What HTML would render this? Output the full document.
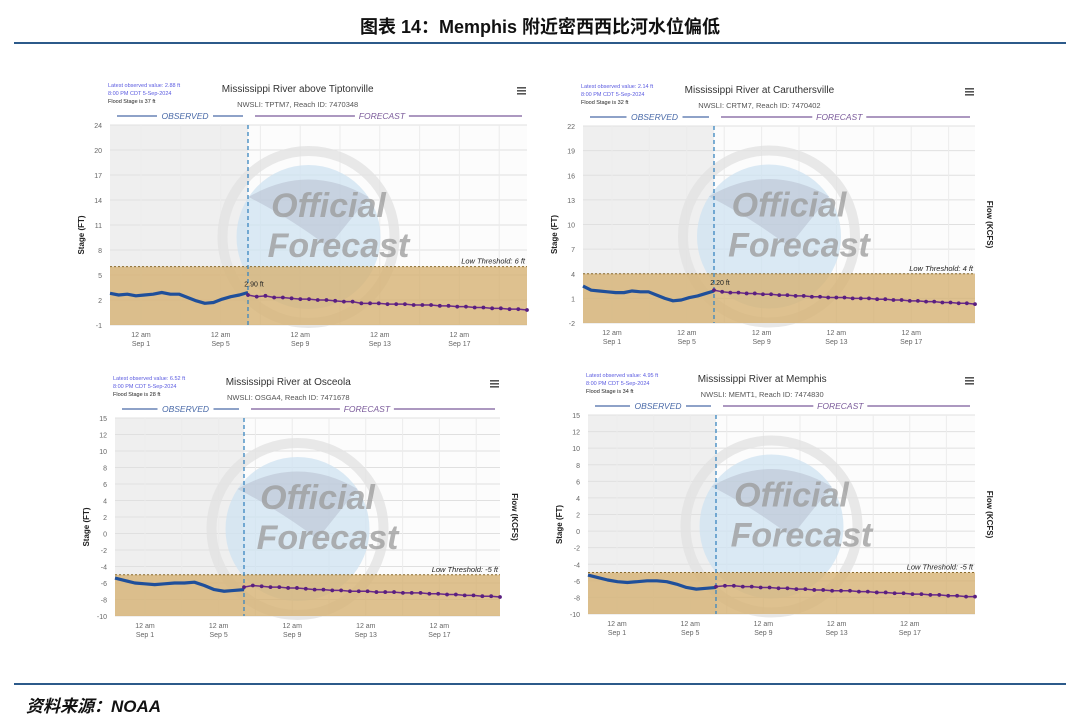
<!DOCTYPE html>
<html><head><meta charset="utf-8">
<style>
html,body{margin:0;padding:0;background:#fff;}
body{width:1080px;height:720px;overflow:hidden;position:relative;font-family:"Liberation Sans","Noto Sans CJK SC",sans-serif;}
#title{position:absolute;left:0;top:13px;width:1080px;text-align:center;font-size:18px;font-weight:bold;color:#111;}
.rule{position:absolute;left:14px;width:1052px;height:2px;background:#2c5a8a;}
#source{position:absolute;left:26px;top:692px;font-size:17px;font-weight:bold;font-style:italic;color:#111;}
svg{position:absolute;left:0;top:0;}
</style></head>
<body>
<div id="title">图表 14：Memphis 附近密西西比河水位偏低</div>
<div class="rule" style="top:42px"></div>
<div class="rule" style="top:683px"></div>
<div id="source">资料来源：NOAA</div>
<svg id="chart" width="1080" height="720"></svg>
<script>
// ---- data ----
const panelTitles = ["Mississippi River above Tiptonville","Mississippi River at Caruthersville","Mississippi River at Osceola","Mississippi River at Memphis"];
const panelIds = ["NWSLI: TPTM7, Reach ID: 7470348","NWSLI: CRTM7, Reach ID: 7470402","NWSLI: OSGA4, Reach ID: 7471678","NWSLI: MEMT1, Reach ID: 7474830"];
const latestValues = ["2.88 ft","2.14 ft","6.52 ft","4.95 ft"];
const floodStages = ["37 ft","32 ft","28 ft","34 ft"];
const thresholds = [6, 4, -5, -5];
const thresholdLabels = ["Low Threshold: 6 ft","Low Threshold: 4 ft","Low Threshold: -5 ft","Low Threshold: -5 ft"];
const lastObsLabels = ["2.90 ft","2.20 ft","",""];
const xTickLabels = ["Sep 1","Sep 5","Sep 9","Sep 13","Sep 17"];
const xTickDays = [0,4,8,12,16];
const yTicks1 = [-1,2,5,8,11,14,17,20,24];
const yTicks2 = [-2,1,4,7,10,13,16,19,22];
const yTicks3 = [-10,-8,-6,-4,-2,0,2,4,6,8,10,12,15];
const yTicks4 = [-10,-8,-6,-4,-2,0,2,4,6,8,10,12,15];
const obs1 = [2.8,2.6,2.7,2.5,2.6,2.7,2.9,2.7,2.7,2.3,1.9,1.6,1.7,2.1,2.4,2.6,2.9];
const fc1 = [2.6,2.4,2.5,2.3,2.3,2.2,2.1,2.1,2.0,2.0,1.9,1.8,1.8,1.6,1.6,1.6,1.5,1.5,1.5,1.4,1.4,1.4,1.3,1.3,1.2,1.2,1.1,1.1,1.0,1.0,0.9,0.9,0.8];
const obs2 = [2.5,2.0,1.9,1.8,1.7,1.7,1.9,1.8,1.8,1.4,1.0,0.7,0.8,1.1,1.3,1.6,1.9];
const fc2 = [2.0,1.8,1.7,1.7,1.6,1.6,1.5,1.5,1.4,1.4,1.3,1.3,1.2,1.2,1.1,1.1,1.1,1.0,1.0,1.0,0.9,0.9,0.8,0.8,0.7,0.7,0.6,0.6,0.5,0.5,0.4,0.4,0.3];
const obs3 = [-5.4,-5.7,-6.0,-6.1,-6.2,-6.1,-6.0,-6.0,-5.9,-6.3,-6.8,-7.0,-6.9,-6.8];
const fc3 = [-6.5,-6.3,-6.4,-6.5,-6.5,-6.6,-6.6,-6.7,-6.8,-6.8,-6.9,-6.9,-7.0,-7.0,-7.0,-7.1,-7.1,-7.1,-7.2,-7.2,-7.2,-7.3,-7.3,-7.4,-7.4,-7.5,-7.5,-7.6,-7.6,-7.7];
const obs4 = [-5.3,-5.6,-5.9,-6.1,-6.2,-6.1,-6.0,-6.0,-6.1,-6.4,-6.8,-7.0,-6.9,-6.8];
const fc4 = [-6.7,-6.6,-6.6,-6.7,-6.7,-6.8,-6.8,-6.9,-6.9,-7.0,-7.0,-7.1,-7.1,-7.2,-7.2,-7.2,-7.3,-7.3,-7.4,-7.4,-7.5,-7.5,-7.6,-7.6,-7.7,-7.7,-7.8,-7.8,-7.9,-7.9];

// layout
const layouts = [
 {x0:110,x1:527,y0:125,y1:325,sep1:141,ppd:19.9,split:248,ticks:yTicks1,obs:obs1,fc:fc1,flow:false},
 {x0:583,x1:975,y0:126,y1:323,sep1:612,ppd:18.7,split:714,ticks:yTicks2,obs:obs2,fc:fc2,flow:true},
 {x0:115,x1:500,y0:418,y1:616,sep1:145,ppd:18.4,split:244,ticks:yTicks3,obs:obs3,fc:fc3,flow:true},
 {x0:588,x1:975,y0:415,y1:614,sep1:617,ppd:18.3,split:716,ticks:yTicks4,obs:obs4,fc:fc4,flow:true}
];
const NS="http://www.w3.org/2000/svg";
const svg=document.getElementById('chart');
function mk(tag,attrs,parent,text){const e=document.createElementNS(NS,tag);for(const k in attrs)e.setAttribute(k,attrs[k]);if(text!==undefined)e.textContent=text;(parent||svg).appendChild(e);return e;}

layouts.forEach((L,i)=>{
  const g=mk('g',{});
  
  
  const t=L.ticks, n=t.length;
  function ypx(v){
    for(let k=0;k<n-1;k++){if(v<=t[k+1]||k===n-2){const f=(v-t[k])/(t[k+1]-t[k]);return L.y1-(k+f)*(L.y1-L.y0)/(n-1);}}
  }
  function xpx(d){return L.sep1+d*L.ppd;}
  const splitDay=(L.split-L.sep1)/L.ppd, startDay=(L.x0-L.sep1)/L.ppd, endDay=(L.x1-L.sep1)/L.ppd;
  mk('rect',{x:L.x0,y:L.y0,width:L.split-L.x0,height:L.y1-L.y0,fill:'#efefef'},g);
  mk('rect',{x:L.split,y:L.y0,width:L.x1-L.split,height:L.y1-L.y0,fill:'#fcfcfc'},g);
  t.forEach((v,k)=>{const y=ypx(v);
    const gl=mk('line',{x1:L.x0,x2:L.x1,y1:y,y2:y,stroke:'#e0e0e0','stroke-width':1},g);
    
    const lb=mk('text',{x:L.x0-8,y:y+3,'text-anchor':'end','font-size':7,fill:'#666'},g,String(v));
    
  });
  for(let d=-2;d<=22;d+=2){const x=xpx(d);if(x>L.x0&&x<L.x1)mk('line',{x1:x,x2:x,y1:L.y0,y2:L.y1,stroke:'#ececec','stroke-width':1},g);}
  // watermark
  const cx=(L.x0+L.x1)/2-10, cy=(L.y0+L.y1)/2+12;
  mk('circle',{cx:cx,cy:cy,r:86,fill:'none',stroke:'#e2e2e2','stroke-width':10,opacity:0.8},g);
  mk('circle',{cx:cx,cy:cy,r:72,fill:'#cfe3f2',opacity:0.75},g);
  mk('path',{d:`M${cx-60} ${cy-40} Q${cx} ${cy-75} ${cx+60} ${cy-40} L${cx+20} ${cy+10} Q${cx-20} ${cy-20} ${cx-60} ${cy-40}Z`,fill:'#b3bccb',opacity:0.5},g);
  const w1=mk('text',{x:cx+20,y:cy-20,'text-anchor':'middle','font-size':34,'font-weight':'bold','font-style':'italic',fill:'#9a9a9a',opacity:0.75},g,'Official');
  
  const w2=mk('text',{x:cx+30,y:cy+20,'text-anchor':'middle','font-size':34,'font-weight':'bold','font-style':'italic',fill:'#9a9a9a',opacity:0.75},g,'Forecast');
  
  const ty=ypx(thresholds[i]);
  const band=mk('rect',{x:L.x0,y:ty,width:L.x1-L.x0,height:L.y1-ty,fill:'#d6b173',opacity:0.8},g);
  
  mk('line',{x1:L.x0,x2:L.x1,y1:ty,y2:ty,stroke:'#8a6a2a','stroke-width':1,'stroke-dasharray':'2,2'},g);
  const tl=mk('text',{x:L.x1-2,y:ty-3,'text-anchor':'end','font-size':7.5,'font-style':'italic',fill:'#222'},g,thresholdLabels[i]);
  
  const sl=mk('line',{x1:L.split,x2:L.split,y1:L.y0,y2:L.y1,stroke:'#3a86c0','stroke-width':1.3,'stroke-dasharray':'4,3'},g);
  
  const op=L.obs.map((v,k)=>[xpx(startDay+(splitDay-startDay)*k/(L.obs.length-1)),ypx(v)]);
  const ol=mk('polyline',{points:op.map(p=>p.join(',')).join(' '),fill:'none',stroke:'#1f4f9a','stroke-width':3.2,'stroke-linejoin':'round'},g);
  
  const fp=L.fc.map((v,k)=>[xpx(splitDay+(endDay-splitDay)*k/(L.fc.length-1)),ypx(v)]);
  const fl=mk('polyline',{points:fp.map(p=>p.join(',')).join(' '),fill:'none',stroke:'#6a2a8a','stroke-width':1.5},g);
  
  fp.forEach(p=>{const c=mk('circle',{cx:p[0],cy:p[1],r:1.9,fill:'#5a1f80'},g);
    });
  if(lastObsLabels[i]){mk('text',{x:L.split+6,y:op[op.length-1][1]-6,'text-anchor':'middle','font-size':7,fill:'#222'},g,lastObsLabels[i]);}
  xTickDays.forEach((d,k)=>{const x=xpx(d);
    const a=mk('text',{x:x,y:L.y1+12,'text-anchor':'middle','font-size':7,fill:'#666'},g,'12 am');
    
    mk('text',{x:x,y:L.y1+21,'text-anchor':'middle','font-size':7,fill:'#666'},g,xTickLabels[k]);
  });
  const hy=L.y0-9;
  mk('line',{x1:L.x0+7,x2:L.split-5,y1:hy,y2:hy,stroke:'#4a6aa8','stroke-width':1.2},g);
  mk('line',{x1:L.split+7,x2:L.x1-5,y1:hy,y2:hy,stroke:'#7a5a9a','stroke-width':1.2},g);
  const om=(L.x0+L.split)/2+6, fm=L.split+(L.x1-L.split)*0.48;
  mk('rect',{x:om-28,y:hy-6,width:56,height:11,fill:'#fff'},g);
  mk('rect',{x:fm-27,y:hy-6,width:54,height:11,fill:'#fff'},g);
  const ot=mk('text',{x:om,y:hy+3,'text-anchor':'middle','font-size':8.5,'font-style':'italic',fill:'#4a6aa8'},g,'OBSERVED');
  
  const ft=mk('text',{x:fm,y:hy+3,'text-anchor':'middle','font-size':8.5,'font-style':'italic',fill:'#7a5a9a'},g,'FORECAST');
  
  const tcx=L.x0+(L.x1-L.x0)*0.45;
  const tt=mk('text',{x:tcx,y:L.y0-33,'text-anchor':'middle','font-size':10,fill:'#333'},g,panelTitles[i]);
  
  mk('text',{x:tcx,y:L.y0-18,'text-anchor':'middle','font-size':7.5,fill:'#555'},g,panelIds[i]);
  mk('text',{x:L.x0-2,y:L.y0-38,'font-size':5.5,fill:'#5a5ae0'},g,'Latest observed value: '+latestValues[i]);
  mk('text',{x:L.x0-2,y:L.y0-30,'font-size':5.5,fill:'#5a5ae0'},g,'8:00 PM CDT 5-Sep-2024');
  mk('text',{x:L.x0-2,y:L.y0-22,'font-size':5.5,fill:'#222'},g,'Flood Stage is '+floodStages[i]);
  const menu=mk('g',{},g);
  for(let k=0;k<3;k++)mk('rect',{x:L.x1-10,y:L.y0-38+k*3,width:9,height:1.6,fill:'#555'},menu);
  const ya=mk('text',{transform:`translate(${L.x0-26},${(L.y0+L.y1)/2+10}) rotate(-90)`,'text-anchor':'middle','font-size':8,'font-weight':'bold',fill:'#222'},g,'Stage (FT)');
  
  if(L.flow){mk('text',{transform:`translate(${L.x1+12},${(L.y0+L.y1)/2}) rotate(90)`,'text-anchor':'middle','font-size':8,'font-weight':'bold',fill:'#222'},g,'Flow (KCFS)');}
});
</script>
</body></html>
